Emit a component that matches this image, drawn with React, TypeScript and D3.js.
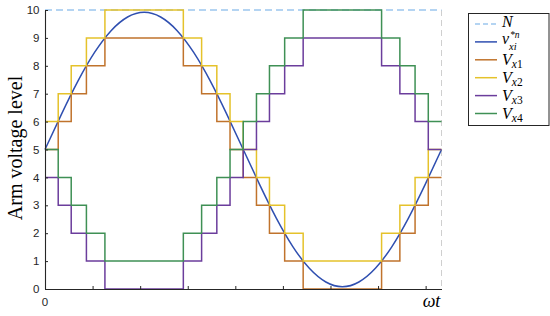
import { useEffect, useRef } from "react";
import * as d3 from "d3";

// ---- data ----
// switching instants of the staircase waveforms (ωt in degrees)
const switchAngles = [0, 12, 23.8, 37.6, 54.4, 125.6, 142.2, 156, 168, 180, 192, 203.8, 217.6, 234.4, 305.6, 322.2, 336, 348, 360];
// level held from each instant to the next one
const vx1Levels = [5, 6, 7, 8, 9, 8, 7, 6, 5, 4, 3, 2, 1, 0, 1, 2, 3, 4, 4];
const vx2Levels = [6, 7, 8, 9, 10, 9, 8, 7, 6, 5, 4, 3, 2, 1, 2, 3, 4, 5, 5];
const vx3Levels = [4, 3, 2, 1, 0, 1, 2, 3, 4, 5, 6, 7, 8, 9, 8, 7, 6, 5, 5];
const vx4Levels = [5, 4, 3, 2, 1, 2, 3, 4, 5, 6, 7, 8, 9, 10, 9, 8, 7, 6, 6];

// reference voltage v*n_xi sampled every 15 degrees
const refAngles = [0, 15, 30, 45, 60, 75, 90, 105, 120, 135, 150, 165, 180, 195, 210, 225, 240, 255, 270, 285, 300, 315, 330, 345, 360];
const refValues = [5, 6.27, 7.46, 8.48, 9.26, 9.75, 9.92, 9.75, 9.26, 8.48, 7.46, 6.27, 5, 3.73, 2.54, 1.52, 0.74, 0.25, 0.08, 0.25, 0.74, 1.52, 2.54, 3.73, 5];

const levelN = 10;
const yTicks = [0, 1, 2, 3, 4, 5, 6, 7, 8, 9, 10];
const xTicks = [0, 43.2, 86.4, 129.6, 172.8, 216, 259.2, 302.4, 345.6];

const stepSeries = [
  { key: "x1", levels: vx1Levels, color: "#c0732c" },
  { key: "x2", levels: vx2Levels, color: "#e5c22b" },
  { key: "x3", levels: vx3Levels, color: "#6b3d9c" },
  { key: "x4", levels: vx4Levels, color: "#3f9055" },
];
const nColor = "#9cc6ee";
const refColor = "#2f4fb0";
const axisColor = "#262626";
const serif = "'Liberation Serif', 'Times New Roman', serif";
const sans = "'Liberation Sans', Arial, sans-serif";

export default function App() {
  const svgRef = useRef<SVGSVGElement>(null);

  useEffect(() => {
    const svg = d3.select(svgRef.current);
    svg.selectAll("*").remove();

    const x = d3.scaleLinear().domain([0, 360]).range([45, 441.5]);
    const y = d3.scaleLinear().domain([0, 10]).range([289, 10]);

    // dashed right border
    svg.append("line")
      .attr("x1", x(360)).attr("x2", x(360))
      .attr("y1", y(10)).attr("y2", y(0))
      .attr("stroke", "#cfcfcf").attr("stroke-width", 1)
      .attr("stroke-dasharray", "6,4");

    // N level
    svg.append("line")
      .attr("x1", x(0)).attr("x2", x(360))
      .attr("y1", y(levelN)).attr("y2", y(levelN))
      .attr("stroke", nColor).attr("stroke-width", 1.3)
      .attr("stroke-dasharray", "7,4");

    // reference sine
    const refLine = d3.line<number>()
      .x((_, i) => x(refAngles[i]))
      .y((d) => y(d))
      .curve(d3.curveNatural);
    svg.append("path")
      .attr("d", refLine(refValues))
      .attr("fill", "none")
      .attr("stroke", refColor)
      .attr("stroke-width", 1.5);

    // staircase arm voltages
    const stepLine = d3.line<number>()
      .x((_, i) => x(switchAngles[i]))
      .y((d) => y(d))
      .curve(d3.curveStepAfter);
    stepSeries.forEach((s) => {
      svg.append("path")
        .attr("d", stepLine(s.levels))
        .attr("fill", "none")
        .attr("stroke", s.color)
        .attr("stroke-width", 1.5);
    });

    // axes
    const yAxis = svg.append("g")
      .attr("transform", `translate(${x(0)},0)`)
      .call(d3.axisLeft(y).tickValues(yTicks).tickSizeInner(-3).tickSizeOuter(0).tickPadding(5.5));
    const xAxis = svg.append("g")
      .attr("transform", `translate(0,${y(0)})`)
      .call(d3.axisBottom(x).tickValues(xTicks).tickSizeInner(-3).tickSizeOuter(0).tickFormat(() => ""));
    [yAxis, xAxis].forEach((g) => {
      g.select(".domain").attr("stroke", axisColor).attr("stroke-width", 1.1);
      g.selectAll(".tick line").attr("stroke", axisColor);
    });
    yAxis.selectAll(".tick text")
      .attr("fill", axisColor)
      .style("font-family", sans)
      .style("font-size", "11.5px");

    svg.append("text")
      .attr("x", x(0)).attr("y", 306)
      .attr("text-anchor", "middle")
      .attr("fill", axisColor)
      .style("font-family", sans)
      .style("font-size", "11.5px")
      .text("0");

    svg.append("text")
      .attr("x", 431.5).attr("y", 307)
      .attr("text-anchor", "middle")
      .style("font-family", serif)
      .style("font-style", "italic")
      .style("font-size", "18px")
      .text("ωt");

    svg.append("text")
      .attr("transform", `translate(22,148) rotate(-90)`)
      .attr("text-anchor", "middle")
      .style("font-family", serif)
      .style("font-size", "20px")
      .text("Arm voltage level");

    // legend
    const lg = svg.append("g");
    lg.append("rect")
      .attr("x", 468.5).attr("y", 13.5)
      .attr("width", 80.5).attr("height", 112)
      .attr("fill", "white")
      .attr("stroke", axisColor).attr("stroke-width", 1);

    const entries = [
      { color: nColor, dash: "5,3", main: "N", sup: "", sub: "" },
      { color: refColor, dash: "", main: "v", sup: "*n", sub: "xi" },
      ...stepSeries.map((s) => ({ color: s.color, dash: "", main: "V", sup: "", sub: s.key })),
    ];
    entries.forEach((e, i) => {
      const ly = 24 + i * 17.9;
      lg.append("line")
        .attr("x1", 475).attr("x2", 497)
        .attr("y1", ly).attr("y2", ly)
        .attr("stroke", e.color).attr("stroke-width", 1.5)
        .attr("stroke-dasharray", e.dash || null);
      if (e.sup) {
        // v with stacked superscript and subscript, in one text element
        const t = lg.append("text")
          .attr("x", 502).attr("y", ly + 2)
          .style("font-family", serif).style("font-style", "italic")
          .style("font-size", "16px");
        t.append("tspan").text(e.main);
        t.append("tspan")
          .attr("x", 510).attr("y", ly - 3.5)
          .style("font-size", "9.5px")
          .text(e.sup);
        t.append("tspan")
          .attr("x", 509).attr("y", ly + 8)
          .style("font-size", "10.5px")
          .text(e.sub);
        return;
      }
      const t = lg.append("text")
        .attr("x", 502).attr("y", ly + (e.sub ? 5.5 : 2.5))
        .style("font-family", serif)
        .style("font-size", "16px");
      t.append("tspan").style("font-style", "italic").text(e.main);
      if (e.sub) {
        t.append("tspan")
          .attr("dy", 3)
          .style("font-size", "11.5px")
          .style("font-style", "italic")
          .text(e.sub.slice(0, 1));
        t.append("tspan")
          .style("font-size", "11.5px")
          .text(e.sub.slice(1));
      }
    });
  }, []);

  return (
    <svg
      ref={svgRef}
      width={550}
      height={316}
      style={{ position: "absolute", left: 0, top: 0, background: "white" }}
    />
  );
}
